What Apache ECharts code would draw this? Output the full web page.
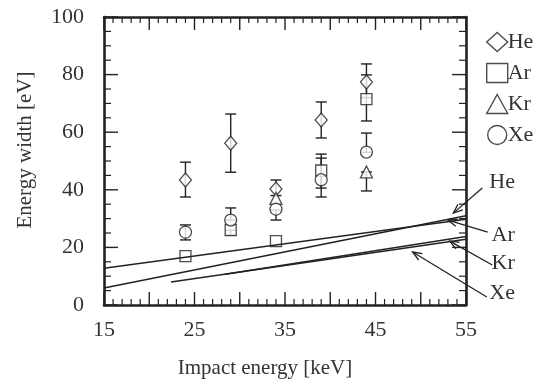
<!DOCTYPE html>
<html>
<head>
<meta charset="utf-8">
<script src="https://cdn.jsdelivr.net/npm/echarts@6/dist/echarts.min.js"></script>
<style>
  html, body { margin: 0; padding: 0; background: #fff; }
  #chart { width: 552px; height: 385px; }
</style>
</head>
<body>
<div id="chart"></div>
<script>
// measured points [impact energy keV, energy width eV]
const heData = [[24, 43.4], [29, 56.2], [34, 40.3], [39, 64.2], [44, 77.4]];
const arData = [[24, 17.0], [29, 26.0], [34, 22.2], [39, 46.7], [44, 71.5]];
const krData = [[34, 37.0], [44, 46.2]];
const xeData = [[24, 25.3], [29, 29.5], [34, 33.3], [39, 43.5], [44, 53.1]];

// error bars [x, low, high]
const heErr = [[24, 37.5, 49.6], [29, 46.1, 66.3], [34, 38.0, 43.4], [39, 58.0, 70.5], [44, 72.0, 83.7]];
const arErr = [[29, 24.3, 26.0], [39, 40.6, 52.4], [44, 63.9, 79.9]];
const krErr = [[44, 39.6, 46.2]];
const xeErr = [[24, 22.6, 27.8], [29, 29.5, 33.7], [34, 29.5, 33.0], [39, 37.5, 51.0], [44, 53.0, 59.7]];

// theoretical lines (end points)
const heLine = [[15, 5.9], [55, 31.0]];
const arLine = [[15, 12.8], [55, 29.8]];
const krLine = [[28.4, 10.7], [55, 23.8]];
const xeLine = [[22.4, 8.0], [55, 22.8]];

// line labels: name, then text pos, arrow tail, arrow tip (data coords)
const labelNames = ['He', 'Ar', 'Kr', 'Xe'];
const labelArrows = [
  [59.0, 42.7, 56.8, 40.6, 53.6, 31.9],
  [59.1, 24.3, 57.4, 25.3, 53.0, 29.5],
  [59.1, 14.6, 57.9, 13.9, 53.2, 22.2],
  [59.0, 4.2, 57.3, 2.8, 49.1, 18.4]
];

// tick values on the frame (major / minor)
const xMajorTicks = [15, 20, 25, 30, 35, 40, 45, 50, 55];
const xMinorTicks = [];
for (let v = 16; v < 55; v++) if (v % 5 !== 0) xMinorTicks.push(v);
const yMajorTicks = [0, 20, 40, 60, 80, 100];
const yMinorTicks = [5, 10, 15, 25, 30, 35, 45, 50, 55, 65, 70, 75, 85, 90, 95];

const xTitle = 'Impact energy [keV]';
const yTitle = 'Energy width [eV]';

const ink = '#222';
const font = 'Liberation Serif, Times New Roman, serif';

function errSeries(data) {
  return {
    type: 'custom',
    data: data,
    z: 1,
    silent: true,
    renderItem: function (params, api) {
      const x = api.value(0);
      const lo = api.coord([x, api.value(1)]);
      const hi = api.coord([x, api.value(2)]);
      const w = 5.5;
      const st = { stroke: ink, lineWidth: 1.4 };
      return {
        type: 'group',
        children: [
          { type: 'line', shape: { x1: lo[0], y1: lo[1], x2: hi[0], y2: hi[1] }, style: st },
          { type: 'line', shape: { x1: lo[0] - w, y1: lo[1], x2: lo[0] + w, y2: lo[1] }, style: st },
          { type: 'line', shape: { x1: hi[0] - w, y1: hi[1], x2: hi[0] + w, y2: hi[1] }, style: st }
        ]
      };
    }
  };
}

// inside ticks on all four sides of the frame, placed through the axes
// kind: 0 x major, 1 x minor, 2 y major, 3 y minor
const tickData = []
  .concat(xMajorTicks.map(function (v) { return [v, 0]; }))
  .concat(xMinorTicks.map(function (v) { return [v, 1]; }))
  .concat(yMajorTicks.map(function (v) { return [v, 2]; }))
  .concat(yMinorTicks.map(function (v) { return [v, 3]; }));

const tickSeries = {
  type: 'custom',
  data: tickData,
  clip: false,
  silent: true,
  z: 4,
  renderItem: function (params, api) {
    const v = api.value(0);
    const kind = api.value(1);
    const major = kind === 0 || kind === 2;
    const st = { stroke: ink, lineWidth: major ? 1.4 : 1.2 };
    if (kind < 2) {
      const len = major ? 13 : 6;
      const b = api.coord([v, 0]);
      const t = api.coord([v, 100]);
      return {
        type: 'group',
        children: [
          { type: 'line', shape: { x1: b[0], y1: b[1], x2: b[0], y2: b[1] - len }, style: st },
          { type: 'line', shape: { x1: t[0], y1: t[1], x2: t[0], y2: t[1] + len }, style: st }
        ]
      };
    }
    const len = major ? 14 : 7;
    const l = api.coord([15, v]);
    const r = api.coord([55, v]);
    return {
      type: 'group',
      children: [
        { type: 'line', shape: { x1: l[0], y1: l[1], x2: l[0] + len, y2: l[1] }, style: st },
        { type: 'line', shape: { x1: r[0], y1: r[1], x2: r[0] - len, y2: r[1] }, style: st }
      ]
    };
  }
};

// text + open arrow for each theoretical line, outside the plot box
const labelSeries = {
  type: 'custom',
  data: labelArrows,
  clip: false,
  silent: true,
  renderItem: function (params, api) {
    const t = api.coord([api.value(0), api.value(1)]);
    const a = api.coord([api.value(2), api.value(3)]);
    const b = api.coord([api.value(4), api.value(5)]);
    const ang = Math.atan2(b[1] - a[1], b[0] - a[0]);
    const len = 10, spread = 0.38;
    const p1 = [b[0] - len * Math.cos(ang - spread), b[1] - len * Math.sin(ang - spread)];
    const p2 = [b[0] - len * Math.cos(ang + spread), b[1] - len * Math.sin(ang + spread)];
    const st = { stroke: ink, lineWidth: 1.3, fill: null };
    return {
      type: 'group',
      children: [
        { type: 'line', shape: { x1: a[0], y1: a[1], x2: b[0], y2: b[1] }, style: st },
        { type: 'polyline', shape: { points: [p1, b, p2] }, style: st },
        {
          type: 'text', x: t[0], y: t[1],
          style: { text: labelNames[params.dataIndex], fontFamily: font, fontSize: 22, fill: '#333', align: 'center', verticalAlign: 'middle' }
        }
      ]
    };
  }
};

function pointSeries(name, data, symbol, size) {
  return {
    name: name,
    type: 'scatter',
    data: data,
    symbol: symbol,
    symbolSize: size,
    itemStyle: { color: '#fff', borderColor: ink, borderWidth: 1.3 }
  };
}

function lineSeries(data) {
  return {
    type: 'line',
    data: data,
    symbol: 'none',
    silent: true,
    lineStyle: { color: ink, width: 1.5 }
  };
}

function xAxisOf(pos, withLabel) {
  return {
    type: 'value',
    position: pos,
    min: 15, max: 55, interval: 5,
    axisLine: { show: true, onZero: false, lineStyle: { color: ink, width: 2.6 } },
    axisTick: { show: false },
    minorTick: { show: false },
    splitLine: { show: false },
    axisLabel: {
      show: withLabel,
      margin: 14,
      fontFamily: font, fontSize: 22, color: '#333',
      formatter: function (v) { return (v - 15) % 10 === 0 ? String(v) : ''; }
    }
  };
}

function yAxisOf(pos, withLabel) {
  return {
    type: 'value',
    position: pos,
    min: 0, max: 100, interval: 20,
    axisLine: { show: true, onZero: false, lineStyle: { color: ink, width: 2.6 } },
    axisTick: { show: false },
    minorTick: { show: false },
    splitLine: { show: false },
    axisLabel: { show: withLabel, margin: 20, fontFamily: font, fontSize: 22, color: '#333' }
  };
}

const myChart = echarts.init(document.getElementById('chart'));
const option = {
  backgroundColor: '#fff',
  animation: false,
  grid: { left: 104, right: 86, top: 17, bottom: 80 },
  legend: {
    orient: 'vertical',
    left: 481,
    top: 26,
    itemWidth: 21,
    itemHeight: 19,
    itemGap: 9,
    itemStyle: { color: '#fff', borderColor: ink, borderWidth: 1.4 },
    textStyle: { fontFamily: font, fontSize: 22, color: '#333', padding: [0, 0, 0, -5] },
    data: ['He', 'Ar', 'Kr', 'Xe']
  },
  graphic: [
    {
      type: 'text', silent: true, x: 265, y: 368,
      style: { text: xTitle, fontFamily: font, fontSize: 21, fill: '#333', align: 'center', verticalAlign: 'middle' }
    },
    {
      type: 'text', silent: true, x: 25, y: 150, rotation: Math.PI / 2,
      style: { text: yTitle, fontFamily: font, fontSize: 21, fill: '#333', align: 'center', verticalAlign: 'middle' }
    }
  ],
  xAxis: [xAxisOf('bottom', true), xAxisOf('top', false)],
  yAxis: [yAxisOf('left', true), yAxisOf('right', false)],
  series: [
    tickSeries,
    errSeries(heErr), errSeries(arErr), errSeries(krErr), errSeries(xeErr),
    lineSeries(heLine), lineSeries(arLine), lineSeries(krLine), lineSeries(xeLine),
    pointSeries('He', heData, 'diamond', [12, 14]),
    pointSeries('Ar', arData, 'rect', 11),
    pointSeries('Kr', krData, 'triangle', 12),
    pointSeries('Xe', xeData, 'circle', 12),
    labelSeries
  ]
};
myChart.setOption(option);
</script>
</body>
</html>
